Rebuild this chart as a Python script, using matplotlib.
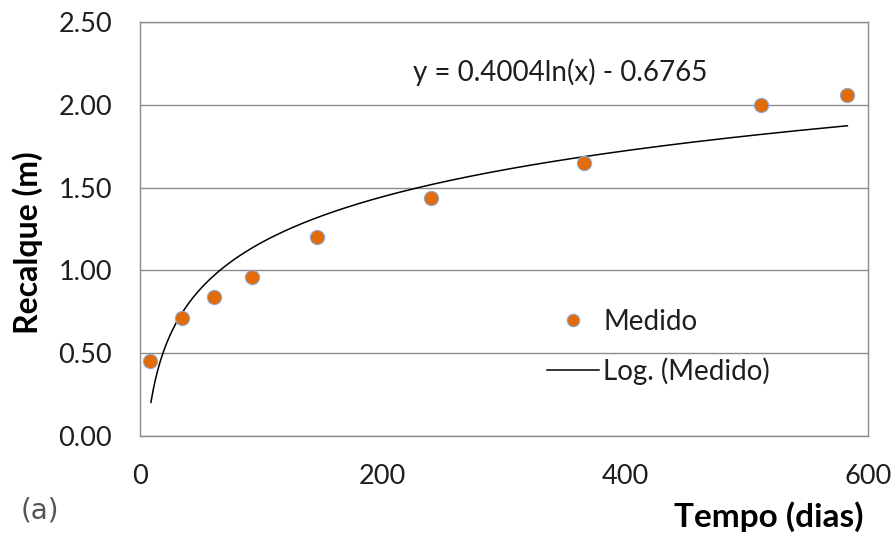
import matplotlib
matplotlib.use("Agg")
import matplotlib.pyplot as plt
import numpy as np
from matplotlib.lines import Line2D

plt.rcParams['font.family'] = ['Lato', 'DejaVu Sans']

# Data
tempo_dias = [8, 35, 61, 92, 146, 240, 366, 512, 583]
recalque_m = [0.45, 0.71, 0.84, 0.96, 1.20, 1.44, 1.65, 2.00, 2.06]
coef_a = 0.4004
coef_b = -0.6765
x_ticks = [0, 200, 400, 600]
y_ticks = [0.00, 0.50, 1.00, 1.50, 2.00, 2.50]
equation_label = "y = 0.4004ln(x) - 0.6765"

W, H = 895, 534
fig = plt.figure(figsize=(W / 100, H / 100), dpi=100)
ax = fig.add_axes([140 / W, 1 - 436 / H, 728 / W, 414 / H])

grid_c = '#8c8c8c'
txt_c = '#1e1e1e'
ax.set_xlim(0, 600)
ax.set_ylim(0, 2.5)
ax.set_xticks(x_ticks)
ax.set_yticks(y_ticks)
ax.set_yticklabels([f"{v:.2f}" for v in y_ticks])
ax.tick_params(length=0, labelsize=19.5, colors=txt_c)
ax.tick_params(axis='y', pad=20)
ax.tick_params(axis='x', pad=20)
ax.yaxis.grid(True, color=grid_c, linewidth=1.0)
ax.set_axisbelow(True)
for s in ax.spines.values():
    s.set_color(grid_c)
    s.set_linewidth(1.0)

# trend line
xt = np.linspace(min(tempo_dias) + 1, max(tempo_dias), 300)
yt = coef_a * np.log(xt) + coef_b
ax.plot(xt, yt, color='black', linewidth=1.1, zorder=2)

ax.scatter(tempo_dias, recalque_m, s=105, color='#e26b0a', edgecolors='#8eaadb',
           linewidths=0.8, zorder=3)

fig.text(413 / W, 1 - 72 / H, equation_label, fontsize=20, va='center', ha='left',
         color=txt_c)

handles = [Line2D([], [], marker='o', linestyle='none', markersize=9,
                  markerfacecolor='#e26b0a', markeredgecolor='#8eaadb', markeredgewidth=0.8),
           Line2D([], [], color='black', linewidth=1.1)]
ax.legend(handles, ['Medido', 'Log. (Medido)'], loc='center left',
          bbox_to_anchor=(547 / W, 1 - 347 / H), bbox_transform=fig.transFigure,
          frameon=False, fontsize=20, handlelength=1.87, handletextpad=0.15,
          labelspacing=0.8, borderpad=0, borderaxespad=0, labelcolor=txt_c)

fig.text(28 / W, 1 - 243 / H, 'Recalque (m)', rotation=90, fontsize=23,
         fontweight='bold', ha='center', va='center', color='black')
fig.text(864 / W, 1 - 517 / H, 'Tempo (dias)', fontsize=24, fontweight='bold',
         ha='right', va='center', color='black')
fig.text(21 / W, 1 - 510 / H, '(a)', fontsize=20, ha='left', va='center',
         color='#555555', family=['DejaVu Sans'])

fig.savefig('out.png', dpi=100)
